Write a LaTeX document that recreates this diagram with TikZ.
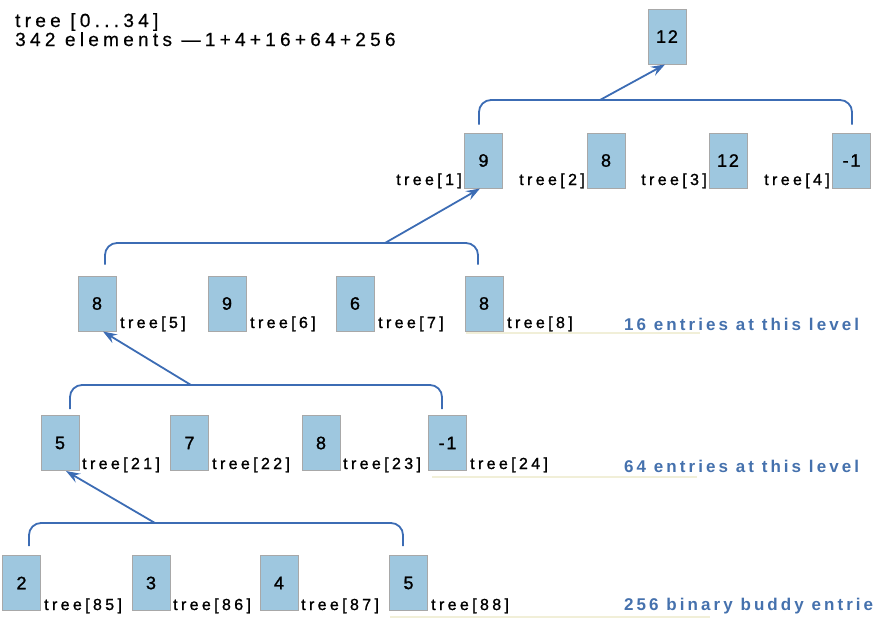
\documentclass[tikz,border=0pt]{standalone}
\usepackage{fontspec}
\setmainfont{Liberation Sans}
\newfontfamily\hdrfont[LetterSpace=22.5,FakeBold=0.6]{Liberation Sans}
\newfontfamily\lblfont[LetterSpace=21,FakeBold=1.2]{Liberation Sans}
\newfontfamily\numfont[LetterSpace=10,FakeBold=1.2]{Liberation Sans}
\newfontfamily\notefont[LetterSpace=18]{Liberation Sans Bold}
\usetikzlibrary{arrows.meta}
\definecolor{boxfill}{HTML}{9EC7DF}
\definecolor{boxline}{HTML}{A8A8A8}
\definecolor{arrblue}{HTML}{3C6CB4}
\definecolor{noteblue}{HTML}{4571AD}
\definecolor{paleline}{HTML}{F1EFD8}
\begin{document}
\begin{tikzpicture}[x=1pt,y=-1pt,
  cell/.style={draw=boxline, fill=boxfill, line width=1pt, minimum width=38pt, minimum height=55pt, inner sep=0pt, font=\numfont\fontsize{18}{18}\selectfont},
  lblr/.style={inner sep=0pt, anchor=base west, font=\lblfont\fontsize{16}{16}\selectfont},
  lbll/.style={inner sep=0pt, anchor=base east, font=\lblfont\fontsize{16}{16}\selectfont},
  hdr/.style={inner sep=0pt, anchor=base west, font=\hdrfont\fontsize{19}{19}\selectfont},
  note/.style={inner sep=0pt, anchor=base west, text=noteblue, font=\notefont\fontsize{17}{17}\selectfont},
  brk/.style={draw=arrblue, line width=1.8pt, rounded corners=12pt},
  arr/.style={draw=arrblue, line width=1.8pt, -{Stealth[length=14pt,width=10pt,inset=5pt]}},
  pale/.style={draw=paleline, line width=2pt}]
\useasboundingbox (0,0) rectangle (875,627);
\clip (0,0) rectangle (875,627);

% header
\node[hdr] (h1) at (15,27) {tree [0...34]};
\node[hdr] (h2) at (15,46) {342 elements —1+4+16+64+256};

% level 0
\node[cell] (n0) at (667,36.5) {12};

% level 1
\node[cell] (a1) at (483.5,160.5) {9};
\node[cell] (a2) at (606,160.5) {8};
\node[cell] (a3) at (728,160.5) {12};
\node[cell] (a4) at (851.5,160.5) {-1};
\node[lbll] (la1) at (462,185) {tree[1]};
\node[lbll] (la2) at (585,185) {tree[2]};
\node[lbll] (la3) at (707,185) {tree[3]};
\node[lbll] (la4) at (830,185) {tree[4]};

% level 2
\node[cell] (b5) at (97,303.5) {8};
\node[cell] (b6) at (227,303.5) {9};
\node[cell] (b7) at (355,303.5) {6};
\node[cell] (b8) at (484,303.5) {8};
\node[lblr] (lb5) at (120,328) {tree[5]};
\node[lblr] (lb6) at (250,328) {tree[6]};
\node[lblr] (lb7) at (378,328) {tree[7]};
\node[lblr] (lb8) at (507,328) {tree[8]};

% level 3
\node[cell] (c21) at (60,443) {5};
\node[cell] (c22) at (189.5,443) {7};
\node[cell] (c23) at (321,443) {8};
\node[cell] (c24) at (447.5,443) {-1};
\node[lblr] (lc21) at (82,469) {tree[21]};
\node[lblr] (lc22) at (212,469) {tree[22]};
\node[lblr] (lc23) at (343,469) {tree[23]};
\node[lblr] (lc24) at (470,469) {tree[24]};

% level 4
\node[cell] (d85) at (21.5,583) {2};
\node[cell] (d86) at (151,583) {3};
\node[cell] (d87) at (279,583) {4};
\node[cell] (d88) at (408.5,583) {5};
\node[lblr] (ld85) at (44,610) {tree[85]};
\node[lblr] (ld86) at (173,610) {tree[86]};
\node[lblr] (ld87) at (301,610) {tree[87]};
\node[lblr] (ld88) at (431,610) {tree[88]};

% pale underlines
\draw[pale] (466,333) -- (700,333);
\draw[pale] (432,477) -- (697,477);
\draw[pale] (390,617) -- (710,617);

% notes
\node[note] (m2) at (624,330) {16 entries at this level};
\node[note] (m3) at (624,472) {64 entries at this level};
\node[note] (m4) at (624,610) {256 binary buddy entries};

% brackets and arrows
\coordinate (j0) at (600,100);
\coordinate (j1) at (385,243);
\coordinate (j2) at (191,385);
\coordinate (j3) at (155,523);

\draw[brk] ([xshift=-4.5pt,yshift=8pt]a1.north) |- (j0) -| ([xshift=0.5pt,yshift=8pt]a4.north);
\draw[brk] ([xshift=8pt,yshift=11pt]b5.north) |- (j1) -| ([xshift=-6pt,yshift=11pt]b8.north);
\draw[brk] ([xshift=10pt,yshift=6pt]c21.north) |- (j2) -| ([xshift=-5.5pt,yshift=6pt]c24.north);
\draw[brk] ([xshift=7.5pt,yshift=9pt]d85.north) |- (j3) -| ([xshift=-5.5pt,yshift=9pt]d88.north);

\draw[arr] (j0) -- ([xshift=-2pt]n0.south);
\draw[arr] (j1) -- ([xshift=-3.5pt]a1.south);
\draw[arr] (j2) -- ([xshift=6pt]b5.south);
\draw[arr] (j3) -- ([xshift=6pt]c21.south);
\end{tikzpicture}
\end{document}
